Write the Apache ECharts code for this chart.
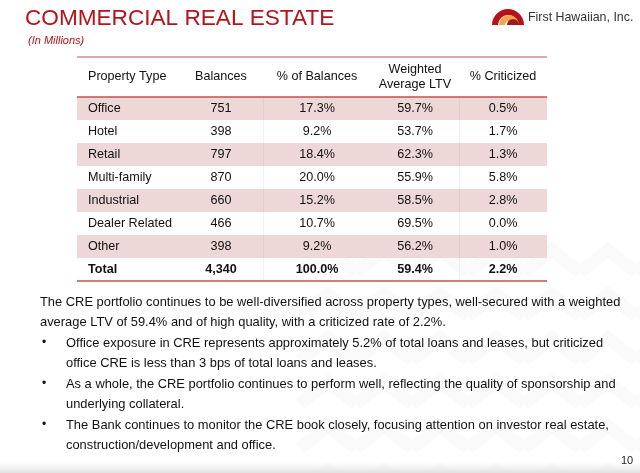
<!DOCTYPE html>
<html>
<head>
<meta charset="utf-8">
<script src="https://cdn.jsdelivr.net/npm/echarts@6/dist/echarts.min.js"></script>
<style>
html,body{margin:0;padding:0;background:#fff;}
#chart{width:640px;height:473px;}
</style>
</head>
<body>
<div id="chart"></div>
<script>
// ---- data ----
const columns = ['Property Type', 'Balances', '% of Balances', 'Weighted\nAverage LTV', '% Criticized'];
const propertyTypes = ['Office', 'Hotel', 'Retail', 'Multi-family', 'Industrial', 'Dealer Related', 'Other', 'Total'];
const balances = [751, 398, 797, 870, 660, 466, 398, 4340];
const pctOfBalances = [17.3, 9.2, 18.4, 20.0, 15.2, 10.7, 9.2, 100.0];
const weightedLTV = [59.7, 53.7, 62.3, 55.9, 58.5, 69.5, 56.2, 59.4];
const pctCriticized = [0.5, 1.7, 1.3, 5.8, 2.8, 0.0, 1.0, 2.2];

const bodyLines = [
  {bullet: false, lines: ['The CRE portfolio continues to be well-diversified across property types, well-secured with a weighted',
                         'average LTV of 59.4% and of high quality, with a criticized rate of 2.2%.']},
  {bullet: true, lines: ['Office exposure in CRE represents approximately 5.2% of total loans and leases, but criticized',
                        'office CRE is less than 3 bps of total loans and leases.']},
  {bullet: true, lines: ['As a whole, the CRE portfolio continues to perform well, reflecting the quality of sponsorship and',
                        'underlying collateral.']},
  {bullet: true, lines: ['The Bank continues to monitor the CRE book closely, focusing attention on investor real estate,',
                        'construction/development and office.']}
];

// ---- layout ----
const FONT = '"Liberation Sans", Arial, Helvetica, sans-serif';
const RED = '#b5121b';
const LINE_RED = '#c0504d';
const PINK = '#edd7d7';
const TABLE_LEFT = 77, TABLE_W = 470, HEAD_TOP = 57, HEAD_H = 40, BODY_TOP = 97, ROW_H = 23;
const colPos = [11, 144, 240, 338, 426];   // x offsets inside table
const colAlign = ['left', 'center', 'center', 'center', 'center'];
const sepPos = [186, 382];

const fmtBal = v => v.toLocaleString('en-US');
const fmtPct = v => v.toFixed(1) + '%';
const colValues = [
  propertyTypes,
  balances.map(fmtBal),
  pctOfBalances.map(fmtPct),
  weightedLTV.map(fmtPct),
  pctCriticized.map(fmtPct)
];

const series = [];
// row stripes
series.push({
  type: 'bar', xAxisIndex: 0, yAxisIndex: 0, silent: true, z: 1,
  barWidth: '100%', barCategoryGap: 0,
  data: propertyTypes.map((p, i) => ({
    value: TABLE_W,
    itemStyle: {color: (i % 2 === 0 && i < 7) ? PINK : 'rgba(0,0,0,0)'}
  })),
  markLine: {
    silent: true, symbol: 'none', label: {show: false},
    lineStyle: {color: 'rgba(170,120,120,0.12)', type: 'solid', width: 1},
    data: sepPos.map(x => ({xAxis: x}))
  }
});
// cell texts
colValues.forEach((vals, c) => {
  series.push({
    type: 'scatter', xAxisIndex: 0, yAxisIndex: 0, symbolSize: 0, silent: true, z: 5,
    itemStyle: {opacity: 1},
    data: vals.map((v, r) => ({
      value: [colPos[c], propertyTypes[r]],
      label: {formatter: v, fontWeight: r === 7 ? 'bold' : 'normal'}
    })),
    label: {show: true, position: 'inside', align: colAlign[c], verticalAlign: 'middle',
            fontFamily: FONT, fontSize: 12.6, color: '#111'}
  });
});
// header texts
series.push({
  type: 'scatter', xAxisIndex: 1, yAxisIndex: 1, symbolSize: 0, silent: true, z: 5,
  itemStyle: {opacity: 1},
  data: columns.map((h, c) => ({
    value: [colPos[c], 'header'],
    label: {formatter: h, align: colAlign[c]}
  })),
  label: {show: true, position: 'inside', verticalAlign: 'middle', lineHeight: 15,
          fontFamily: FONT, fontSize: 12.6, color: '#111'}
});

const graphics = [];
// very faint chevron background pattern
for (let cx = 300; cx < 660; cx += 56) {
  for (let cy = 250; cy < 490; cy += 44) {
    graphics.push({type: 'polyline', z: -20, silent: true,
      shape: {points: [[cx, cy + 22], [cx + 28, cy], [cx + 56, cy + 22]]},
      style: {stroke: '#fafafa', lineWidth: 13, fill: null}});
  }
}

// body text graphics
let y = 304;
bodyLines.forEach((para) => {
  para.lines.forEach((ln, li) => {
    if (para.bullet && li === 0) {
      graphics.push({type: 'text', left: 42, top: y - 8, style: {text: '•', font: '12px ' + FONT, fill: '#111'}});
    }
    graphics.push({type: 'text', left: para.bullet ? 66 : 40, top: y - 8,
      style: {text: ln, font: '12.9px ' + FONT, fill: '#111'}});
    y += 20;
  });
  y += 1;
});

// rules
[HEAD_TOP, BODY_TOP, BODY_TOP + ROW_H * 8].forEach((ly, i) => {
  graphics.push({type: 'line', shape: {x1: TABLE_LEFT, y1: ly, x2: TABLE_LEFT + TABLE_W, y2: ly},
    style: {stroke: LINE_RED, lineWidth: i === 0 ? 1.2 : 1.6}, z: 10});
});

// logo
graphics.push({type: 'sector', shape: {cx: 508, cy: 25, r0: 10, r: 16, startAngle: Math.PI, endAngle: 2 * Math.PI},
  style: {fill: '#b5121b'}});
graphics.push({type: 'sector', shape: {cx: 509, cy: 25, r0: 4, r: 10, startAngle: Math.PI, endAngle: 2 * Math.PI},
  style: {fill: '#f0a64a'}});
graphics.push({type: 'sector', shape: {cx: 513, cy: 25, r0: 0, r: 6, startAngle: Math.PI, endAngle: 2 * Math.PI},
  style: {fill: '#9b1b1f'}});
graphics.push({type: 'text', left: 528, top: 12, style: {text: 'First Hawaiian, Inc.', font: '12.4px ' + FONT, fill: '#333'}});
// page number
graphics.push({type: 'text', left: 621, top: 455, style: {text: '10', font: '11px ' + FONT, fill: '#222'}});
// bottom shade
graphics.push({type: 'rect', shape: {x: 0, y: 462, width: 640, height: 11}, z: -10,
  style: {fill: {type: 'linear', x: 0, y: 0, x2: 0, y2: 1, colorStops: [{offset: 0, color: 'rgba(235,235,235,0)'}, {offset: 1, color: 'rgba(225,225,225,1)'}]}}});

const chart = echarts.init(document.getElementById('chart'), null, {renderer: 'canvas'});
chart.setOption({
  animation: false,
  backgroundColor: '#ffffff',
  title: [
    {text: 'COMMERCIAL REAL ESTATE', left: 20, top: 2,
     textStyle: {fontFamily: FONT, fontSize: 22.6, fontWeight: 'normal', color: RED}},
    {text: '(In Millions)', left: 23, top: 30,
     textStyle: {fontFamily: FONT, fontSize: 11, fontStyle: 'italic', fontWeight: 'normal', color: RED}}
  ],
  grid: [
    {left: TABLE_LEFT, top: BODY_TOP, width: TABLE_W, height: ROW_H * 8},
    {left: TABLE_LEFT, top: HEAD_TOP, width: TABLE_W, height: HEAD_H}
  ],
  xAxis: [
    {type: 'value', gridIndex: 0, min: 0, max: TABLE_W, show: false},
    {type: 'value', gridIndex: 1, min: 0, max: TABLE_W, show: false}
  ],
  yAxis: [
    {type: 'category', gridIndex: 0, data: propertyTypes, inverse: true, show: false},
    {type: 'category', gridIndex: 1, data: ['header'], show: false}
  ],
  series: series,
  graphic: graphics
});
</script>
</body>
</html>
